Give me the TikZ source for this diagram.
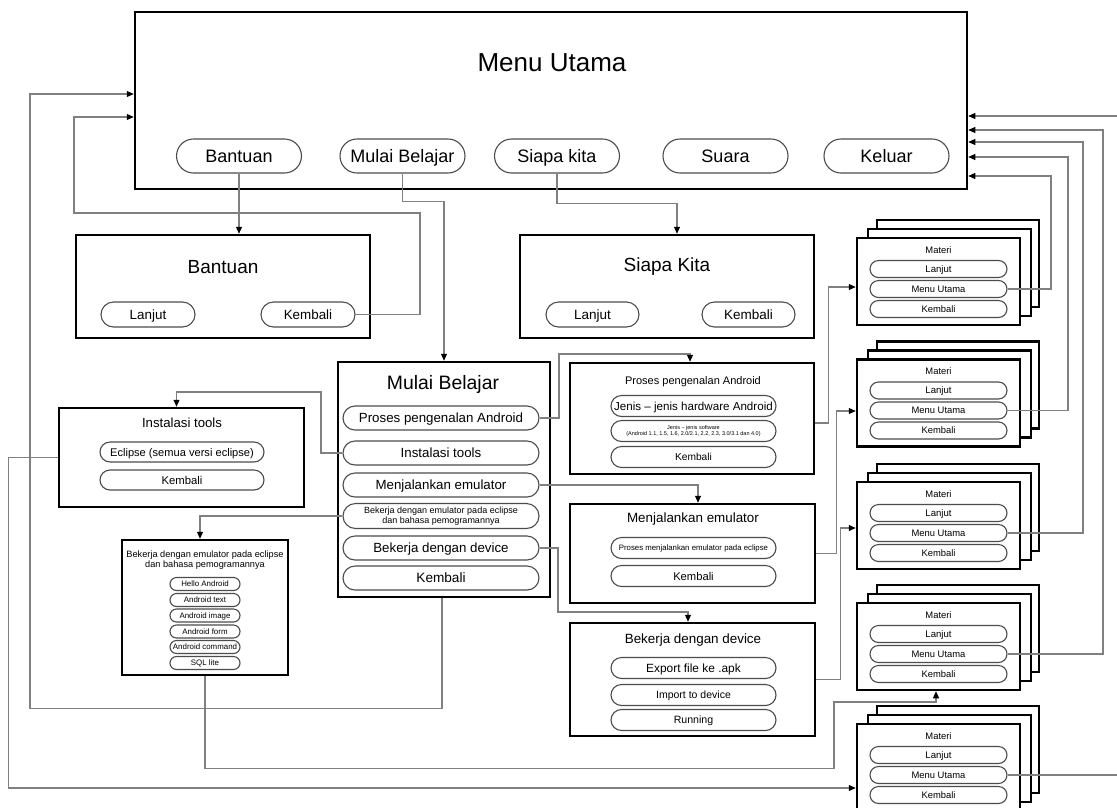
\documentclass[tikz,border=0pt]{standalone}
\usepackage{fontspec}
\setmainfont{Liberation Sans}
\usetikzlibrary{arrows.meta,shapes.misc,calc}
\tikzset{
  fs/.style={font=\fontsize{#1}{#1}\selectfont, text height={0.72*#1}, text depth=0pt},
  bigbox/.style={draw=black, line width=2.5pt, fill=white, inner sep=0pt},
  stackbox/.style={draw=black, line width=2.5pt, fill=white},
  pillbase/.style={draw=black!70, line width=1.1pt, rounded rectangle, fill=white, inner sep=0pt, align=center},
  pill/.style={pillbase},
  pilltwo/.style={pillbase},
  ttl/.style={inner sep=0pt, align=center},
  ttltwo/.style={inner sep=0pt, align=center},
  conn/.style={draw=black!50, line width=1.1pt},
  arr/.style={conn, -{Triangle[length=7pt,width=6pt,color=black]}},
}
\begin{document}
\begin{tikzpicture}[x=1pt,y=-1pt]
\useasboundingbox (0,0) rectangle (1117,807);
\fill[white] (0,0) rectangle (1117,807);
\clip (0,0) rectangle (1117,807);

% ---------- Menu Utama ----------
\node[bigbox, minimum width=832, minimum height=177] (main) at (551,100.5) {};
\node[ttl, fs=26] (mainT) at (552,62) {Menu Utama};
\node[pill, fs=18, minimum width=125, minimum height=34] (bBantuan) at (239,156) {Bantuan};
\node[pill, fs=18, minimum width=125, minimum height=34] (bMulai) at (402.5,156) {Mulai Belajar};
\node[pill, fs=18, minimum width=125, minimum height=34] (bSiapa) at (557,156) {Siapa kita};
\node[pill, fs=18, minimum width=125, minimum height=34] (bSuara) at (725.5,156) {Suara};
\node[pill, fs=18, minimum width=125, minimum height=34] (bKeluar) at (886.5,156) {Keluar};

% ---------- Bantuan ----------
\node[bigbox, minimum width=294, minimum height=103] (boxBantuan) at (223,286.5) {};
\node[ttl, fs=19] (tBantuan) at (223,267) {Bantuan};
\node[pill, fs=13.4, minimum width=94, minimum height=25] (bbLanjut) at (148,314.5) {Lanjut};
\node[pill, fs=13.4, minimum width=94, minimum height=25] (bbKembali) at (308,314.5) {Kembali};

% ---------- Siapa Kita ----------
\node[bigbox, minimum width=294, minimum height=103] (boxSiapa) at (667,286.5) {};
\node[ttl, fs=19] (tSiapa) at (667,265) {Siapa Kita};
\node[pill, fs=13.5, minimum width=93, minimum height=25] (skLanjut) at (592.5,314.5) {Lanjut};
\node[pill, fs=13.5, minimum width=93, minimum height=25] (skKembali) at (748.5,314.5) {Kembali};

% ---------- Mulai Belajar ----------
\node[bigbox, minimum width=212, minimum height=235] (boxMulai) at (444,479.5) {};
\node[ttl, fs=19.4] (tMulai) at (443,383) {Mulai Belajar};
\node[pill, fs=13.3, minimum width=196, minimum height=24] (mProses) at (441,418) {Proses pengenalan Android};
\node[pill, fs=13.3, minimum width=196, minimum height=24] (mInstal) at (441,453) {Instalasi tools};
\node[pill, fs=13.3, minimum width=196, minimum height=24] (mEmu) at (441,485) {Menjalankan emulator};
\node[pilltwo, font=\fontsize{9}{10}\selectfont, minimum width=196, minimum height=25] (mBE) at (441,516) {Bekerja dengan emulator pada eclipse\\dan bahasa pemogramannya};
\node[pill, fs=13.3, minimum width=196, minimum height=24] (mDev) at (441,548) {Bekerja dengan device};
\node[pill, fs=13.6, minimum width=196, minimum height=24] (mKembali) at (441,578) {Kembali};

% ---------- Proses pengenalan Android ----------
\node[bigbox, minimum width=244, minimum height=111] (boxProses) at (692,418.5) {};
\node[ttl, fs=11] (tProses) at (693,381) {Proses pengenalan Android};
\node[pill, fs=11.6, minimum width=165, minimum height=21] (pHW) at (693.5,406) {Jenis -- jenis hardware Android};
\node[pilltwo, font=\fontsize{5.5}{6.5}\selectfont, minimum width=165, minimum height=21] (pSW) at (693.5,431) {Jenis -- jenis software\\(Android 1.1, 1.5, 1.6, 2.0/2.1, 2.2, 2.3, 3.0/3.1 dan 4.0)};
\node[pill, fs=10.2, minimum width=165, minimum height=21] (pKembali) at (693.5,457) {Kembali};

% ---------- Menjalankan emulator ----------
\node[bigbox, minimum width=245, minimum height=99] (boxMenj) at (692.5,553.5) {};
\node[ttl, fs=13.4] (tMenj) at (693,518) {Menjalankan emulator};
\node[pill, fs=7.8, minimum width=165, minimum height=21] (jProses) at (693.5,548) {Proses menjalankan emulator pada eclipse};
\node[pill, fs=11.2, minimum width=165, minimum height=21] (jKembali) at (693.5,576) {Kembali};

% ---------- Bekerja dengan device ----------
\node[bigbox, minimum width=245, minimum height=113] (boxDev) at (692.5,679.5) {};
\node[ttl, fs=13.4] (tDev) at (693,639) {Bekerja dengan device};
\node[pill, fs=11.9, minimum width=165, minimum height=21] (dExport) at (693.5,668) {Export file ke .apk};
\node[pill, fs=10.5, minimum width=165, minimum height=21] (dImport) at (693.5,695) {Import to device};
\node[pill, fs=10.6, minimum width=165, minimum height=21] (dRun) at (693.5,720) {Running};

% ---------- Instalasi tools ----------
\node[bigbox, minimum width=245, minimum height=99] (boxInstal) at (181.5,457.5) {};
\node[ttl, fs=13.2] (tInstal) at (182,423) {Instalasi tools};
\node[pill, fs=11.1, minimum width=164, minimum height=20] (iEclipse) at (182,452) {Eclipse (semua versi eclipse)};
\node[pill, fs=11.3, minimum width=164, minimum height=20] (iKembali) at (182,480) {Kembali};

% ---------- Bekerja dengan emulator ----------
\node[bigbox, minimum width=166, minimum height=135] (boxEmu) at (205,607.5) {};
\node[ttltwo, font=\fontsize{9.2}{9.8}\selectfont] (tEmu) at (205,560) {Bekerja dengan emulator pada eclipse\\dan bahasa pemogramannya};
\node[pill, fs=7.9, minimum width=70, minimum height=13] (eHello) at (205,584) {Hello Android};
\node[pill, fs=7.9, minimum width=70, minimum height=13] (eText) at (205,600) {Android text};
\node[pill, fs=7.9, minimum width=70, minimum height=13] (eImage) at (205,615.5) {Android image};
\node[pill, fs=7.9, minimum width=70, minimum height=13] (eForm) at (205,631.5) {Android form};
\node[pill, fs=7.9, minimum width=70, minimum height=13] (eCmd) at (205,647) {Android command};
\node[pill, fs=7.9, minimum width=70, minimum height=13] (eSQL) at (205,663) {SQL lite};

% ---------- Materi stacks ----------
\foreach \i/\T in {1/238,2/359.5,3/482,4/603,5/724}{
  \draw[stackbox] (877,{\T-18}) rectangle (1039,{\T+69});
  \draw[stackbox] (868,{\T-9}) rectangle (1031,{\T+78});
  \node[bigbox, minimum width=163, minimum height=87] (s\i-f) at (938.5,{\T+43.5}) {};
  \node[ttl, fs=9.4] (s\i-t) at (938.5,{\T+12}) {Materi};
  \node[pill, fs=9.6, minimum width=137, minimum height=17] (s\i-l) at (938.5,{\T+31}) {Lanjut};
  \node[pill, fs=9.4, minimum width=137, minimum height=17] (s\i-m) at (938.5,{\T+51}) {Menu Utama};
  \node[pill, fs=9.4, minimum width=137, minimum height=17] (s\i-k) at (938.5,{\T+71}) {Kembali};
}

% ---------- connectors ----------
\draw[arr] (bBantuan.south) -- (bBantuan.south |- boxBantuan.north);
\draw[arr] (bMulai.south) -- ++(0,28) -| (boxMulai.north);
\draw[arr] (bSiapa.south) -- ++(0,30) -| ([xshift=10pt]boxSiapa.north);

\coordinate (kB) at (74,117);
\draw[arr] (bbKembali.east) -| (420,213) -| (kB) -- (kB -| main.west);
\coordinate (kM) at (30,94);
\draw[arr] ([xshift=-2pt]boxMulai.south) -- ++(0,110) -| (kM) -- (kM -| main.west);

\draw[arr] (mProses.east) -| (559,354) -| ([xshift=-2pt]boxProses.north);
\draw[arr] (mInstal.west) -| (321,392) -| ([xshift=-5pt]boxInstal.north);
\draw[arr] (mEmu.east) -| ([xshift=5.5pt]boxMenj.north);
\draw[arr] (mBE.west) -| ([xshift=-5pt]boxEmu.north);
\draw[arr] (mDev.east) -| (558,612) -| ([xshift=-4.5pt]boxDev.north);

\draw[arr] ([yshift=-4.5pt]boxProses.east) -- ++(13,0) |- ([yshift=-5.5pt]s1-f.west);
\draw[arr] (boxMenj.east) -- ++(20,0) |- ([yshift=-8pt]s2-f.west);
\draw[arr] (boxDev.east) -- ++(24,0) |- ([yshift=-2.5pt]s3-f.west);
\draw[arr] (boxEmu.south) -- ++(0,92) -| (834,702) -| ([xshift=-2.5pt]s4-f.south);
\draw[arr] (boxInstal.west) -- ++(-49,0) |- ([yshift=-20.5pt]s5-f.west);

\foreach \i/\X/\Y in {1/1051/176, 2/1068/157, 3/1083/142, 4/1103/130, 5/1121/116}{
  \coordinate (r\i) at (\X,\Y);
  \draw[arr] (s\i-m.east) -| (r\i) -- (r\i -| main.east);
}
\end{tikzpicture}
\end{document}
